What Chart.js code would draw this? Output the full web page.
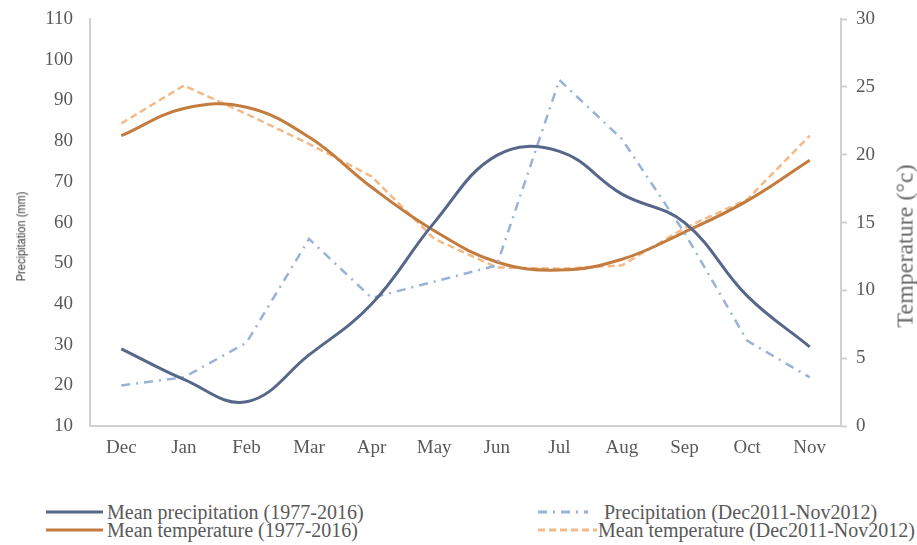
<!DOCTYPE html>
<html>
<head>
<meta charset="utf-8">
<script src="https://cdn.jsdelivr.net/npm/chart.js@4"></script>
<style>
  body { margin: 0; background: #fff; }
  #wrap { position: relative; width: 917px; height: 545px; overflow: hidden; }
  #box { position: absolute; left: 0; top: 0; width: 917px; height: 477px; }
  .leg { position: absolute; font-family: "Liberation Serif", serif; font-size: 20px; color: #595959; white-space: nowrap; }
  .leg svg { position: absolute; left: 0; top: 0; }
  .leg span { position: absolute; top: -12px; line-height: 1.2; }
  .ttl { position: absolute; white-space: nowrap; line-height: 1; }
</style>
</head>
<body>
<div id="wrap">
  <div id="box"><canvas id="myChart"></canvas></div>
  <div class="ttl" id="ttlLeft" style="font-family:'Liberation Sans',sans-serif;font-size:13px;color:#404040;">Precipitation (mm)</div>
  <div class="ttl" id="ttlRight" style="font-family:'Liberation Serif',serif;font-size:24px;color:#6a6a6a;">Temperature (°c)</div>
  <div id="legend"></div>
</div>
<script>
const months = ['Dec', 'Jan', 'Feb', 'Mar', 'Apr', 'May', 'Jun', 'Jul', 'Aug', 'Sep', 'Oct', 'Nov'];
const meanPrecip = [29, 21.5, 16, 27.5, 40, 60, 76.5, 77.5, 67, 60, 42, 29.5];
const precip2012 = [20, 22, 30.5, 56, 41.5, 45.5, 49.5, 95, 80.5, 57.5, 31, 22];
const meanTemp = [21.4, 23.4, 23.5, 21.3, 17.6, 14.4, 12.1, 11.5, 12.3, 14.3, 16.6, 19.6];
const temp2012 = [22.3, 25.1, 23, 20.8, 18.4, 13.8, 11.7, 11.6, 11.85, 14.6, 16.7, 21.4];

const leftTicks = [10, 20, 30, 40, 50, 60, 70, 80, 90, 100, 110];
const rightTicks = [0, 5, 10, 15, 20, 25, 30];

const tickFont = { family: 'Liberation Serif', size: 19 };
const grey = '#595959';

const series = [
    { label: 'Mean precipitation (1977-2016)', data: meanPrecip, color: '#56678a', dash: [], axis: 'y', tension: 0.4, width: 3 },
    { label: 'Precipitation (Dec2011-Nov2012)', data: precip2012, color: '#98b2d8', dash: [9, 6, 2, 6], axis: 'y', tension: 0, width: 2.5 },
    { label: 'Mean temperature (1977-2016)', data: meanTemp, color: '#c47b3e', dash: [], axis: 'y1', tension: 0.4, width: 3 },
    { label: 'Mean temperature (Dec2011-Nov2012)', data: temp2012, color: '#f3b987', dash: [7, 4], axis: 'y1', tension: 0, width: 2.5 }
];

// fixed axis widths so the plot area sits where it does in the original
function fitY(width) {
    return s => {
        s.width = width;
        s.paddingTop = 0;
        s.paddingBottom = 0;
    };
}

const ctx = document.getElementById('myChart');
new Chart(ctx, {
    type: 'line',
    data: {
        labels: months,
        datasets: series.map(s => ({
            label: s.label,
            data: s.data,
            borderColor: s.color,
            borderWidth: s.width,
            borderDash: s.dash,
            tension: s.tension,
            yAxisID: s.axis,
            pointRadius: 0,
            fill: false
        }))
    },
    options: {
        responsive: true,
        maintainAspectRatio: false,
        animation: false,
        layout: { padding: { top: 19, bottom: 8 } },
        plugins: { legend: { display: false }, tooltip: { enabled: false } },
        scales: {
            x: {
                offset: true,
                grid: { display: false, drawTicks: false },
                border: { color: '#d0d0d0', width: 2 },
                ticks: { font: tickFont, color: grey, padding: 10 }
            },
            y: {
                position: 'left',
                min: 10, max: 110,
                afterBuildTicks: s => { s.ticks = leftTicks.map(v => ({ value: v })); },
                afterFit: fitY(90),
                grid: { display: false, drawTicks: false },
                border: { color: '#d0d0d0', width: 2 },
                ticks: { font: tickFont, color: grey, padding: 17 }
            },
            y1: {
                position: 'right',
                min: 0, max: 30,
                afterBuildTicks: s => { s.ticks = rightTicks.map(v => ({ value: v })); },
                afterFit: fitY(76),
                grid: { drawOnChartArea: false, drawTicks: true, tickLength: 6, color: '#d0d0d0', tickWidth: 2 },
                border: { color: '#d0d0d0', width: 2 },
                ticks: { font: tickFont, color: grey, padding: 9 }
            }
        }
    }
});

// axis titles, rotated
function placeTitle(id, cx, cy, stretch) {
    const el = document.getElementById(id);
    const w = el.offsetWidth, h = el.offsetHeight;
    el.style.left = (cx - w / 2) + 'px';
    el.style.top = (cy - h / 2) + 'px';
    el.style.transform = `rotate(-90deg) scaleX(${stretch})`;
}
placeTitle('ttlLeft', 20, 236, 0.85);
placeTitle('ttlRight', 904, 246, 1);

// legend in two columns, like the original
const legendPos = [
    { x: 46, y: 512, len: 57, text: 61 }, { x: 538, y: 512, len: 50, text: 66 },
    { x: 46, y: 530, len: 57, text: 61 }, { x: 538, y: 530, len: 59, text: 60 }
];
const legend = document.getElementById('legend');
series.forEach((s, i) => {
    const p = legendPos[i];
    const div = document.createElement('div');
    div.className = 'leg';
    div.style.left = p.x + 'px';
    div.style.top = p.y + 'px';
    const dash = s.dash.length ? `stroke-dasharray="${s.dash.join(',')}"` : '';
    div.innerHTML = `<svg width="${p.len + 2}" height="4" style="top:-2px"><line x1="0" y1="2" x2="${p.len}" y2="2" stroke="${s.color}" stroke-width="3" ${dash}/></svg><span style="left:${p.text}px">${s.label}</span>`;
    legend.appendChild(div);
});
</script>
</body>
</html>
